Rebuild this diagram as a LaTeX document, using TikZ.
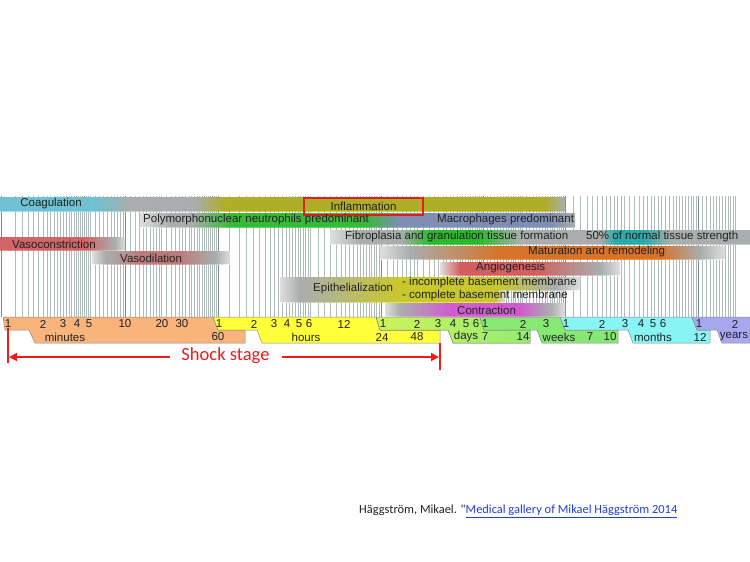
\documentclass[tikz,border=0pt]{standalone}
\usepackage{fontspec}
\setmainfont{Liberation Sans}
\newfontfamily\calibri{Carlito}
\usepackage{tikz}
\usetikzlibrary{arrows.meta}
\definecolor{gridGray}{HTML}{AEBBBB}
\definecolor{gridDark}{HTML}{7E8C8C}
\definecolor{fadeGray}{HTML}{C2C6C6}
\definecolor{coagCol}{HTML}{7EDDF0}
\definecolor{inflamCol}{HTML}{C9C62A}
\definecolor{pmnCol}{HTML}{3ED43E}
\definecolor{macroCol}{HTML}{8EA2CC}
\definecolor{fibroCol}{HTML}{2ED42E}
\definecolor{tealCol}{HTML}{2EC2C2}
\definecolor{matCol}{HTML}{F5822A}
\definecolor{vconCol}{HTML}{F07272}
\definecolor{vdilCol}{HTML}{D88C8C}
\definecolor{angioCol}{HTML}{F06A6A}
\definecolor{epiCol}{HTML}{E6E62E}
\definecolor{contrCol}{HTML}{F066F0}
\definecolor{minCol}{HTML}{F9B47C}
\definecolor{hourCol}{HTML}{FFFF3A}
\definecolor{dayColA}{HTML}{CFF25C}
\definecolor{dayColB}{HTML}{96EC72}
\definecolor{weekCol}{HTML}{88E874}
\definecolor{monthCol}{HTML}{88F4F4}
\definecolor{yearCol}{HTML}{A8A8F0}
\definecolor{unitEdge}{HTML}{8A8A8A}
\definecolor{inkText}{HTML}{222222}
\definecolor{boxRed}{HTML}{E01E1E}
\definecolor{shockRed}{HTML}{EC1C1C}
\definecolor{linkBlue}{HTML}{1F3FD8}

\begin{document}
\begin{tikzpicture}[x=1pt, y=-1pt,
    gridline/.style={gridGray, line width=0.4pt},
    gridmajor/.style={gridDark, line width=0.7pt},
    band/.style={fill opacity=0.85},
    lbl/.style={font=\fontsize{11.5}{12}\selectfont, text=inkText, inner sep=0pt},
    unitbox/.style={draw=unitEdge, line width=0.5pt},
    shockline/.style={shockRed, line width=2.6pt},
    shockarrow/.style={shockRed, line width=1.8pt, -{Triangle[length=8pt,width=8pt]}}]
    \useasboundingbox[fill=white] (0,0) rectangle (750,562);

    % time grid (log scale, one loop per unit)
    \foreach \s in {70,80,...,300,330,360,...,600} {
        \pgfmathsetmacro\gx{7+211*ln(\s/60)/ln(60)}
        \draw[gridline] (\gx,196) -- (\gx,317);
    }
    \foreach \m in {11,...,20,22,24,...,58} {
        \pgfmathsetmacro\gx{7+211*ln(\m)/ln(60)}
        \draw[gridline] (\gx,196) -- (\gx,317);
    }
    \foreach \m in {75,90,...,360,420,480,...,1380} {
        \pgfmathsetmacro\gx{218+163*ln(\m/60)/ln(24)}
        \draw[gridline] (\gx,196) -- (\gx,317);
    }
    \foreach \h in {27,30,...,48,54,60,...,162} {
        \pgfmathsetmacro\gx{381+102*ln(\h/24)/ln(7)}
        \draw[gridline] (\gx,196) -- (\gx,317);
    }
    \foreach \h in {180,192,...,336,360,384,...,696} {
        \pgfmathsetmacro\gx{483+82*ln(\h/168)/ln(4.3)}
        \draw[gridline] (\gx,196) -- (\gx,317);
    }
    \foreach \d in {35,40,...,90,100,110,...,180,195,210,...,345} {
        \pgfmathsetmacro\gx{565+133*ln(\d/30)/ln(12)}
        \draw[gridline] (\gx,196) -- (\gx,317);
    }
    \foreach \m in {13,...,24} {
        \pgfmathsetmacro\gx{698+37*ln(\m/12)/ln(2)}
        \draw[gridline] (\gx,196) -- (\gx,317);
    }
    \foreach \gx in {1,125,218,381,483,565,698}
        \draw[gridmajor] (\gx,196) -- (\gx,317);

    % phase bands
    \foreach \xa/\xb/\ca/\cb in {0/95/coagCol/coagCol, 95/130/coagCol/fadeGray,
        130/195/fadeGray/fadeGray, 195/225/fadeGray/inflamCol,
        225/545/inflamCol/inflamCol, 545/565/inflamCol/fadeGray}
        \fill[band, left color=\ca, right color=\cb] (\xa,197) rectangle (\xb,211);
    \foreach \xa/\xb/\ca/\cb in {140/170/white/fadeGray, 170/190/fadeGray/fadeGray,
        190/230/fadeGray/pmnCol, 230/365/pmnCol/pmnCol, 365/400/pmnCol/macroCol,
        400/550/macroCol/macroCol, 550/575/macroCol/fadeGray}
        \fill[band, left color=\ca, right color=\cb] (\xa,213) rectangle (\xb,227);
    \foreach \xa/\xb/\ca/\cb in {330/360/white/fadeGray, 360/400/fadeGray/fadeGray,
        400/430/fadeGray/fibroCol, 430/480/fibroCol/fibroCol, 480/520/fibroCol/fadeGray,
        520/600/fadeGray/fadeGray, 600/615/fadeGray/tealCol, 615/645/tealCol/tealCol,
        645/670/tealCol/fadeGray, 670/750/fadeGray/fadeGray}
        \fill[band, left color=\ca, right color=\cb] (\xa,230) rectangle (\xb,244);
    \foreach \xa/\xb/\ca/\cb in {0/85/vconCol/vconCol, 85/115/vconCol/fadeGray,
        115/125/fadeGray/white}
        \fill[band, left color=\ca, right color=\cb] (\xa,237) rectangle (\xb,250);
    \foreach \xa/\xb/\ca/\cb in {380/410/white/fadeGray, 410/500/fadeGray/matCol,
        500/660/matCol/matCol, 660/700/matCol/fadeGray, 700/725/fadeGray/white}
        \fill[band, left color=\ca, right color=\cb] (\xa,246) rectangle (\xb,259);
    \foreach \xa/\xb/\ca/\cb in {92/105/white/fadeGray, 105/140/fadeGray/vdilCol,
        140/180/vdilCol/vdilCol, 180/215/vdilCol/fadeGray, 215/230/fadeGray/white}
        \fill[band, left color=\ca, right color=\cb] (\xa,251) rectangle (\xb,264);
    \foreach \xa/\xb/\ca/\cb in {440/460/white/angioCol, 460/535/angioCol/angioCol,
        535/600/angioCol/fadeGray, 600/620/fadeGray/white}
        \fill[band, left color=\ca, right color=\cb] (\xa,262) rectangle (\xb,275);
    \foreach \xa/\xb/\ca/\cb in {280/300/white/fadeGray, 300/400/fadeGray/epiCol,
        400/495/epiCol/epiCol}
        \fill[band, left color=\ca, right color=\cb] (\xa,277) rectangle (\xb,302);
    \foreach \xa/\xb/\ca/\cb in {495/555/epiCol/fadeGray, 555/580/fadeGray/white}
        \fill[band, left color=\ca, right color=\cb] (\xa,277) rectangle (\xb,290);
    \fill[band, left color=epiCol, right color=white] (495,290) rectangle (505,302);
    \foreach \xa/\xb/\ca/\cb in {385/400/white/fadeGray, 400/450/fadeGray/contrCol,
        450/520/contrCol/contrCol, 520/550/contrCol/fadeGray, 550/565/fadeGray/white}
        \fill[band, left color=\ca, right color=\cb] (\xa,303) rectangle (\xb,316);

    % band labels
    \node[lbl] (coag) at (51,204) {Coagulation};
    \node[lbl, draw=boxRed, line width=1.8pt, minimum width=119pt, minimum height=17pt]
        (inflam) at (363.5,206.5) {Inflammation};
    \node[lbl, anchor=west] (pmn) at (143,220) {Polymorphonuclear neutrophils predominant};
    \node[lbl, anchor=west] (macro) at (437,220) {Macrophages predominant};
    \node[lbl, anchor=west] (fibro) at (345,237) {Fibroplasia and granulation tissue formation};
    \node[lbl, anchor=west] (strength) at (586,237) {50\% of normal tissue strength};
    \node[lbl, anchor=west] (vcon) at (12,244) {Vasoconstriction};
    \node[lbl, anchor=west] (mat) at (528,252) {Maturation and remodeling};
    \node[lbl, anchor=west] (vdil) at (120,258) {Vasodilation};
    \node[lbl, anchor=west] (angio) at (476,268) {Angiogenesis};
    \node[lbl, anchor=west] (epi) at (313,289) {Epithelialization};
    \node[lbl, anchor=west] (epiA) at (402,283) {- incomplete basement membrane};
    \node[lbl, anchor=west] (epiB) at (402,296) {- complete basement membrane};
    \node[lbl, anchor=west] (contr) at (457,310) {Contraction};

    % time units
    \filldraw[unitbox, fill=minCol] (3,317) -- (213,317) -- (218,330) -- (245,330)
        -- (245,343) -- (35,343) -- (29,330) -- (5,330) -- cycle;
    \filldraw[unitbox, fill=hourCol] (213,317) -- (376,317) -- (380,330) -- (440,330)
        -- (440,343) -- (262,343) -- (257,330) -- (218,330) -- cycle;
    \filldraw[unitbox, left color=dayColA, right color=dayColB] (376,317) -- (480,317)
        -- (484,330) -- (530,330) -- (530,343) -- (453,343) -- (448,330) -- (380,330) -- cycle;
    \filldraw[unitbox, fill=weekCol] (480,317) -- (560,317) -- (565,330) -- (618,330)
        -- (618,343) -- (542,343) -- (537,330) -- (484,330) -- cycle;
    \filldraw[unitbox, fill=monthCol] (560,317) -- (692,317) -- (697,330) -- (710,330)
        -- (710,343) -- (633,343) -- (628,330) -- (565,330) -- cycle;
    \filldraw[unitbox, fill=yearCol] (692,317) -- (750,317) -- (750,343) -- (722,343)
        -- (717,330) -- (697,330) -- cycle;

    \foreach \x/\t [count=\i] in {8/1, 43/2, 63/3, 77/4, 89/5, 125/10, 162/20, 182/30,
        219/1, 254/2, 274/3, 287/4, 299/5, 309/6, 344/12,
        383/1, 417/2, 438/3, 453/4, 466/5, 476/6,
        485/1, 523/2, 546/3, 566/1, 602/2, 625/3, 641/4, 653/5, 663/6, 699/1, 735/2}
        \node[lbl] (top\i) at (\x,324) {\t};
    \foreach \x/\t [count=\i] in {65/minutes, 218/60, 306/hours, 382/24, 417/48,
        466/days, 485/7, 523/14, 559/weeks, 590/7, 610/10, 653/months, 700/12, 734/years}
        \node[lbl] (low\i) at (\x,337) {\t};

    % shock stage
    \node[text=shockRed, font=\calibri\fontsize{18.5}{20}\selectfont, inner sep=0pt]
        (shock) at (225.5,356) {Shock stage};
    \coordinate (startTop) at (8,328);
    \coordinate (startBot) at (8,363);
    \coordinate (startMid) at (9,357);
    \coordinate (endTop) at (440,343);
    \coordinate (endBot) at (440,370);
    \coordinate (endMid) at (439,357);
    \draw[shockline] (startTop) -- (startBot);
    \draw[shockline] (endTop) -- (endBot);
    \draw[shockarrow] ([xshift=-11pt]shock.west |- startMid) -- (startMid);
    \draw[shockarrow] ([xshift=12pt]shock.east |- endMid) -- (endMid);

    % credit line
    \node[anchor=west, inner sep=0pt, font=\calibri\fontsize{12.4}{14}\selectfont, text=inkText]
        (credit) at (359,511) {Häggström, Mikael. "\textcolor{linkBlue}{\underline{Medical gallery of Mikael Häggström 2014}}};
\end{tikzpicture}
\end{document}
